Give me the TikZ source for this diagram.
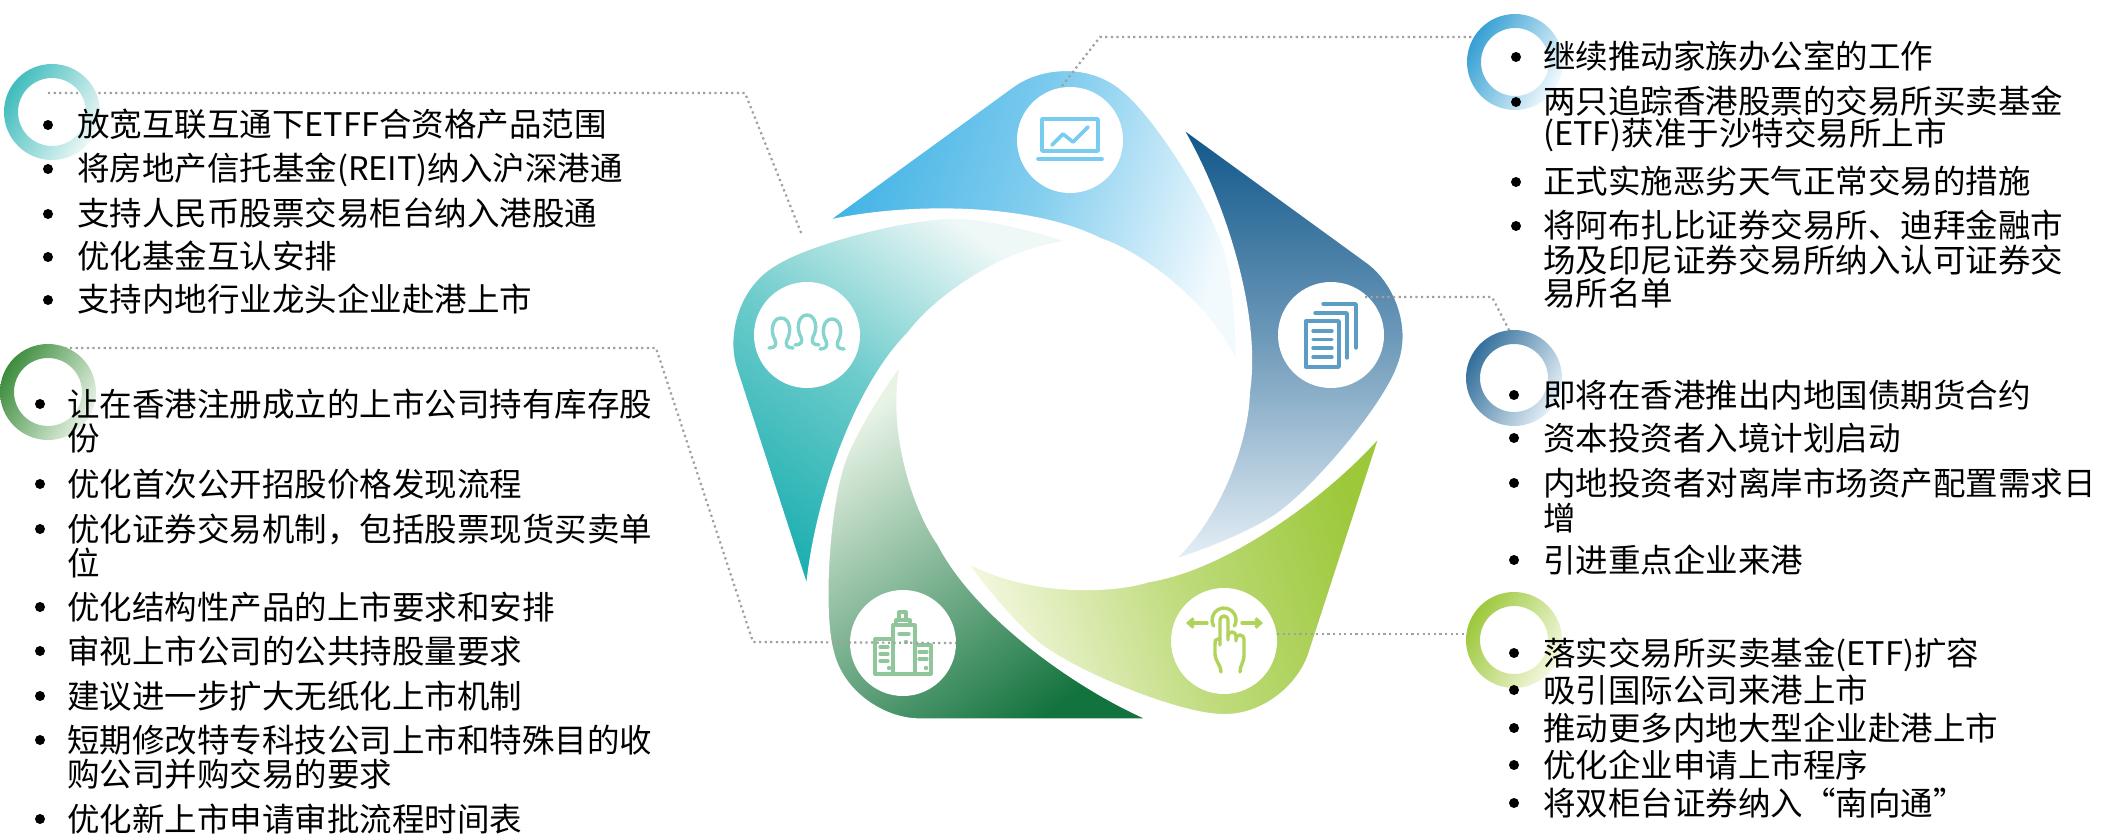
\documentclass[tikz,border=0pt]{standalone}
\usepackage{fontspec}
\setmainfont{Noto Sans CJK SC}
\usetikzlibrary{arrows.meta}

% piece colours (dark end, pale end)
\definecolor{bluA}{HTML}{3FB2E5}\definecolor{bluB}{HTML}{F2FAFE}
\definecolor{navA}{HTML}{0E5589}\definecolor{navB}{HTML}{E6F0F7}
\definecolor{limA}{HTML}{9CC83A}\definecolor{limB}{HTML}{F4F8E0}
\definecolor{grnA}{HTML}{13733E}\definecolor{grnB}{HTML}{E8F3E6}
\definecolor{tealA}{HTML}{1FB0B1}\definecolor{tealB}{HTML}{EEF8F7}
% icon colours
\definecolor{icBlu}{HTML}{78CCEF}
\definecolor{icNav}{HTML}{5C9DC5}
\definecolor{icLim}{HTML}{B0D45A}
\definecolor{icGrn}{HTML}{8FC79A}
\definecolor{icTeal}{HTML}{86D4CF}
\definecolor{leadgray}{HTML}{A0A0A0}

% one swirl piece of the pentagon, local frame centred on the pentagon
\def\petalpath{(-246,-195) -- (-56,-333)
  .. controls (-28,-353) and (22,-357) .. (55,-328)
  .. controls (86,-303) and (142,-216) .. (157,-168)
  .. controls (167,-134) and (170,-70) .. (168,-52)
  .. controls (140,-116) and (70,-165) .. (31,-178)
  .. controls (-40,-214) and (-165,-214) .. cycle}

% rotation, dark colour, pale colour, share of dark in the middle, shading angle
\newcommand{\petal}[5]{%
  \begin{scope}[shift={(1069,418)}, rotate=#1]
    \shade[top color=#2, bottom color=#3, middle color=#2!#4!#3, shading angle=#5] \petalpath;
    \draw[white, line width=4pt, line join=round] \petalpath;
  \end{scope}}

\newcommand{\ring}[4]{% centre, dark, pale, angle
  \shade[even odd rule, top color=#2, bottom color=#3, shading angle=#4]
    #1 circle (48) #1 circle (34);}

\newcommand{\person}[2]{%
  \draw[shift={(#1,#2)}] (-12,14) .. controls (-6,14) and (-4,11) .. (-6,6)
    .. controls (-11,-2) and (-9,-16) .. (0,-16)
    .. controls (9,-16) and (11,-2) .. (6,6)
    .. controls (4,11) and (6,14) .. (12,14);}

\begin{document}
\begin{tikzpicture}[x=1pt, y=-1pt,
  txt/.style={anchor=base west, inner sep=0pt, text=black,
    font=\fontsize{32.5}{34}\selectfont},
  leader/.style={draw=leadgray, line width=2.2pt, dash pattern=on 2.2pt off 3.4pt},
  iconbg/.style={circle, fill=white, minimum size=106pt, inner sep=0pt},
  icon/.style={line width=3.6pt, line cap=round, line join=round}]
\useasboundingbox (0,0) rectangle (2123,834);

% ---------- swirl pentagon ----------
\petal{0}{bluA}{bluB}{62}{72}
\petal{-72}{navA}{navB}{55}{0}
\petal{-144}{limA}{limB}{60}{-72}
\petal{-216}{grnA}{grnB}{50}{-144}
\petal{-288}{tealA}{tealB}{62}{-216}

% ---------- icon discs ----------
\node[iconbg] (ic1) at (1070,140) {};
\node[iconbg] (ic2) at (1331,335) {};
\node[iconbg] (ic3) at (1224,641) {};
\node[iconbg] (ic4) at (903,643) {};
\node[iconbg] (ic5) at (807,335) {};

% laptop with chart
\begin{scope}[shift={(ic1.center)}, icon, color=icBlu]
  \draw (-28,-21) rectangle (28,11);
  \draw (-32,19) -- (32,19);
  \draw (-18,5) -- (-7,-6) -- (3,2) -- (18,-13);
\end{scope}
% stacked documents
\begin{scope}[shift={(ic2.center)}, icon, color=icNav, line width=3.4pt]
  \draw (-25,-14) rectangle (8,32);
  \foreach \yy in {-4,4.5,13,22} \draw (-18,\yy) -- (1,\yy);
  \draw (-16,-22) -- (16,-22) -- (16,23);
  \draw (-8,-31) -- (25,-31) -- (25,13);
\end{scope}
% hand with swipe arrows
\begin{scope}[shift={(ic3.center)}, icon, color=icLim, line width=3.4pt]
  \draw (-4,4) -- (-4,-21) arc (180:360:4) -- (4,-1);
  \draw (4,-5) arc (180:360:4) -- (12,0);
  \draw (12,-2) arc (180:360:4) -- (20,14) .. controls (20,22) and (16,24) .. (16,31);
  \draw (-4,-2) -- (-6,-2) .. controls (-9,-2) and (-9,0) .. (-9,3) -- (-9,13)
        .. controls (-9,20) and (-3,24) .. (-3,31);
  \draw (0,-21) ++(150:12) arc (150:390:12);
  \draw[-{Straight Barb[length=5pt,width=9pt]}] (-17,-18) -- (-38,-18);
  \draw[-{Straight Barb[length=5pt,width=9pt]}] (18,-18) -- (39,-18);
\end{scope}
% office buildings
\begin{scope}[shift={(ic4.center)}, icon, color=icGrn, line width=3.2pt, line cap=butt]
  \draw (-4,-31) rectangle (3,-23);
  \draw (-7,-23) rectangle (7,-18);
  \draw (-10,-18) rectangle (12,31);
  \draw (-28,-4) rectangle (-10,31);
  \draw (12,2) rectangle (28,31);
  \draw[line cap=round] (-4,-9) -- (6,-9);
  \draw[line cap=round] (-23,4) -- (-15,4) (-23,11) -- (-15,11) (-23,18) -- (-15,18);
  \draw[line cap=round] (16,9) -- (24,9) (16,16) -- (24,16);
  \fill (3,-1) circle (2.2) (-14,25) circle (2.2) (23,25) circle (2.2);
\end{scope}
% three people
\begin{scope}[shift={(ic5.center)}, icon, color=icTeal, line width=3.4pt]
  \person{-26}{-1}
  \person{25}{0}
  \person{0}{-4}
\end{scope}

% ---------- leader lines ----------
\coordinate (rL1) at (52,112);
\coordinate (rL2) at (48,392);
\coordinate (rR1) at (1515,62);
\coordinate (rR2) at (1514,378);
\coordinate (rR3) at (1514,640);

\coordinate (a1) at (48,93);  \coordinate (a2) at (745,93);  \coordinate (a3) at (802,235);
\draw[leader] (a1) -- (a2) -- (a3);
\coordinate (b1) at (42,348); \coordinate (b2) at (656,348); \coordinate (b3) at (753,642);
\draw[leader] (b1) -- (b2) -- (b3) -- (ic4.east);
\coordinate (c1) at (1477,37); \coordinate (c2) at (1100,37); \coordinate (c3) at (1062,86);
\draw[leader] (c1) -- (c2) -- (c3);
\coordinate (d1) at (1365,297); \coordinate (d2) at (1492,297); \coordinate (d3) at (1510,332);
\draw[leader] (d1) -- (d2) -- (d3);
\coordinate (e1) at (1277,634); \coordinate (e2) at (1468,634);
\draw[leader] (e1) -- (e2);

% ---------- gradient rings ----------
\ring{(rL1)}{tealA!85}{tealB}{60}
\ring{(rL2)}{grnA!70!limA}{grnB}{60}
\ring{(rR1)}{bluA!80!navA}{bluB}{60}
\ring{(rR2)}{navA!85}{navB}{60}
\ring{(rR3)}{limA}{limB}{60}

% ---------- bullets ----------
\foreach \yy in {125,169,214,257,300} \fill (48,\yy) circle (5);
\foreach \yy in {404,484,529,607,651,696,740,819} \fill (40,\yy) circle (5);
\foreach \yy in {57,102,182,226} \fill (1516,\yy) circle (5);
\foreach \yy in {395,438,483,560} \fill (1514,\yy) circle (5);
\foreach \yy in {653,690,728,765,803} \fill (1514,\yy) circle (5);

% ---------- left upper list ----------
\node[txt] (la1) at (77,137) {放宽互联互通下ETFF合资格产品范围};
\node[txt] (la2) at (77,181) {将房地产信托基金(REIT)纳入沪深港通};
\node[txt] (la3) at (77,226) {支持人民币股票交易柜台纳入港股通};
\node[txt] (la4) at (77,269) {优化基金互认安排};
\node[txt] (la5) at (77,312) {支持内地行业龙头企业赴港上市};

% ---------- left lower list ----------
\node[txt] (lb1) at (67,416) {让在香港注册成立的上市公司持有库存股};
\node[txt] (lb1b) at (67,450) {份};
\node[txt] (lb2) at (67,496) {优化首次公开招股价格发现流程};
\node[txt] (lb3) at (67,541) {优化证券交易机制，包括股票现货买卖单};
\node[txt] (lb3b) at (67,575) {位};
\node[txt] (lb4) at (67,619) {优化结构性产品的上市要求和安排};
\node[txt] (lb5) at (67,663) {审视上市公司的公共持股量要求};
\node[txt] (lb6) at (67,708) {建议进一步扩大无纸化上市机制};
\node[txt] (lb7) at (67,752) {短期修改特专科技公司上市和特殊目的收};
\node[txt] (lb7b) at (67,786) {购公司并购交易的要求};
\node[txt] (lb8) at (67,831) {优化新上市申请审批流程时间表};

% ---------- right upper list ----------
\node[txt] (ra1) at (1543,69) {继续推动家族办公室的工作};
\node[txt] (ra2) at (1543,114) {两只追踪香港股票的交易所买卖基金};
\node[txt] (ra2b) at (1543,146) {(ETF)获准于沙特交易所上市};
\node[txt] (ra3) at (1543,194) {正式实施恶劣天气正常交易的措施};
\node[txt] (ra4) at (1543,238) {将阿布扎比证券交易所、迪拜金融市};
\node[txt] (ra4b) at (1543,273) {场及印尼证券交易所纳入认可证券交};
\node[txt] (ra4c) at (1543,306) {易所名单};

% ---------- right middle list ----------
\node[txt] (rb1) at (1543,407) {即将在香港推出内地国债期货合约};
\node[txt] (rb2) at (1543,450) {资本投资者入境计划启动};
\node[txt] (rb3) at (1543,495) {内地投资者对离岸市场资产配置需求日};
\node[txt] (rb3b) at (1543,530) {增};
\node[txt] (rb4) at (1543,572) {引进重点企业来港};

% ---------- right lower list ----------
\node[txt] (rc1) at (1543,665) {落实交易所买卖基金(ETF)扩容};
\node[txt] (rc2) at (1543,702) {吸引国际公司来港上市};
\node[txt] (rc3) at (1543,740) {推动更多内地大型企业赴港上市};
\node[txt] (rc4) at (1543,777) {优化企业申请上市程序};
\node[txt] (rc5) at (1543,815) {将双柜台证券纳入“南向通”};
\end{tikzpicture}
\end{document}
